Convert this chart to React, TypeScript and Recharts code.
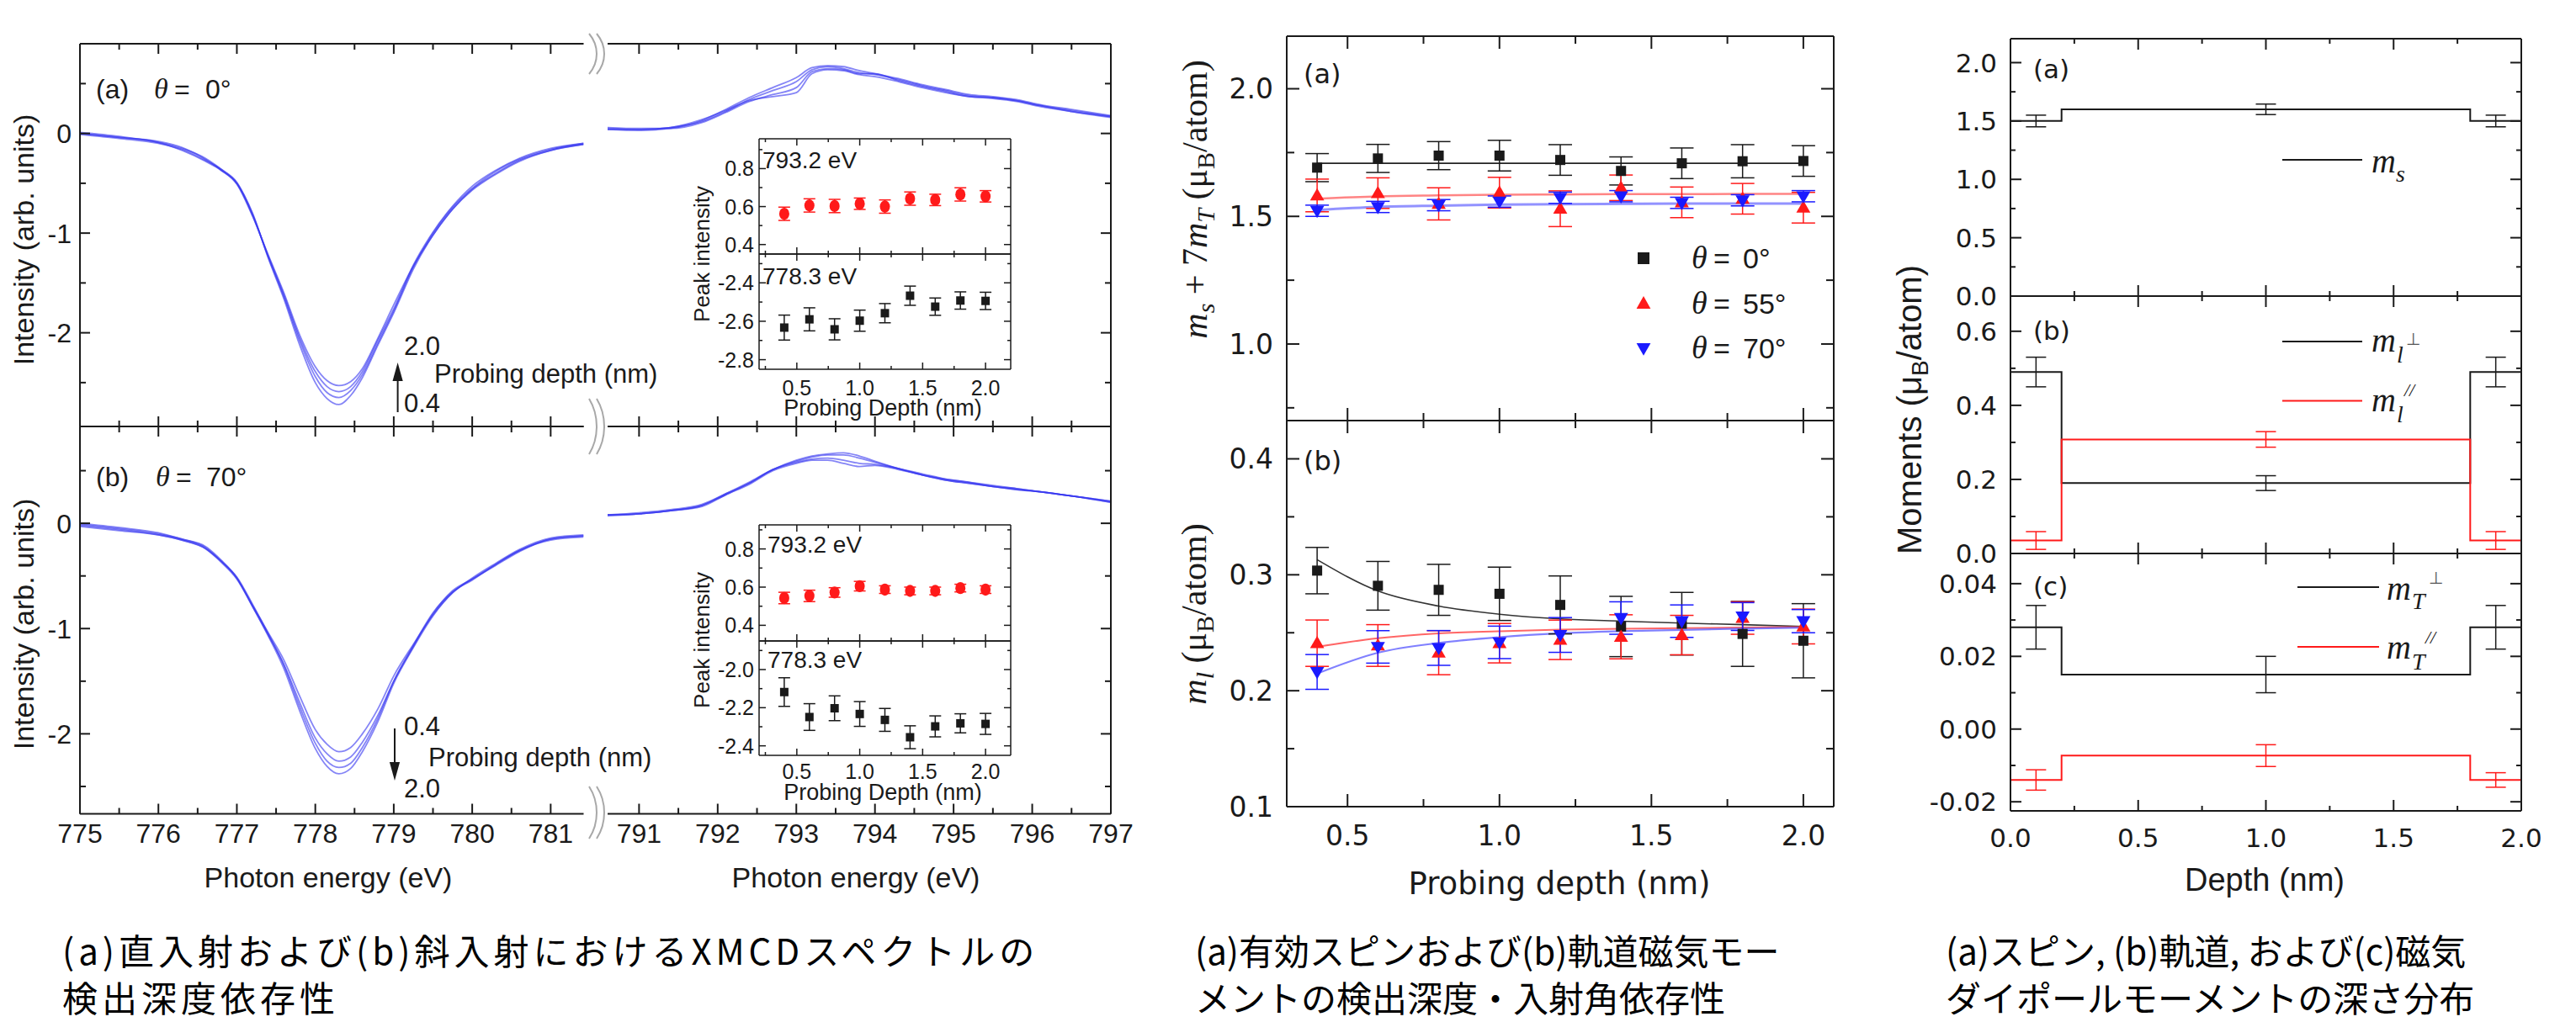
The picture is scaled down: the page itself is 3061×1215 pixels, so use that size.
import React from "react";
import { ComposedChart, Line, Scatter, XAxis, YAxis, ErrorBar } from "recharts";

const INK = "#1a1a1a";
const SPEC_BLUE = "#3434f0";
const RED = "#ff1a1a";
const BLUE = "#1a1aff";

const SANS = "'Liberation Sans', Arial, sans-serif";
const DEJAVU = "'DejaVu Sans', Verdana, sans-serif";
const SERIF = "'Liberation Serif', 'Times New Roman', serif";
const JP = "'Noto Sans CJK JP', 'Noto Sans CJK SC', sans-serif";

// ---- XMCD spectra (photon energy in eV) ----
const E_L3 = [775.0, 775.5, 776.0, 776.3, 776.6, 776.8, 777.0, 777.2, 777.4, 777.6, 777.8, 778.0, 778.15, 778.3, 778.45, 778.6, 778.8, 779.0, 779.25, 779.5, 779.75, 780.0, 780.3, 780.6, 781.0, 781.42];
const E_L2 = [790.6, 791.0, 791.4, 791.8, 792.1, 792.4, 792.7, 793.0, 793.2, 793.4, 793.6, 793.8, 794.0, 794.3, 794.6, 794.9, 795.2, 795.5, 795.8, 796.1, 796.5, 797.0];

// theta = 0 deg, a few probing depths
const SPEC0_L3 = [
  [0.0, -0.04, -0.08, -0.14, -0.26, -0.37, -0.51, -0.83, -1.22, -1.6, -2.02, -2.34, -2.48, -2.53, -2.49, -2.36, -2.05, -1.72, -1.33, -1.02, -0.76, -0.56, -0.4, -0.27, -0.17, -0.11],
  [0.01, -0.03, -0.09, -0.15, -0.25, -0.36, -0.5, -0.82, -1.23, -1.62, -2.05, -2.39, -2.54, -2.59, -2.54, -2.39, -2.07, -1.76, -1.32, -0.99, -0.73, -0.53, -0.37, -0.25, -0.15, -0.1],
  [-0.01, -0.05, -0.1, -0.16, -0.27, -0.36, -0.49, -0.81, -1.24, -1.64, -2.08, -2.44, -2.6, -2.65, -2.58, -2.42, -2.1, -1.78, -1.34, -1.0, -0.74, -0.55, -0.38, -0.26, -0.16, -0.1],
  [0.0, -0.04, -0.09, -0.17, -0.28, -0.37, -0.5, -0.8, -1.25, -1.66, -2.12, -2.5, -2.66, -2.72, -2.63, -2.45, -2.12, -1.8, -1.36, -1.02, -0.76, -0.57, -0.41, -0.28, -0.17, -0.11],
];
const SPEC0_L2 = [
  [0.04, 0.03, 0.05, 0.13, 0.24, 0.36, 0.46, 0.56, 0.66, 0.68, 0.67, 0.63, 0.6, 0.55, 0.49, 0.44, 0.39, 0.37, 0.34, 0.29, 0.24, 0.18],
  [0.05, 0.04, 0.06, 0.12, 0.22, 0.34, 0.43, 0.52, 0.64, 0.67, 0.65, 0.61, 0.59, 0.54, 0.48, 0.43, 0.38, 0.36, 0.33, 0.28, 0.23, 0.17],
  [0.06, 0.05, 0.05, 0.11, 0.21, 0.32, 0.39, 0.46, 0.62, 0.65, 0.64, 0.6, 0.6, 0.53, 0.47, 0.42, 0.37, 0.36, 0.33, 0.28, 0.22, 0.16],
  [0.04, 0.04, 0.06, 0.14, 0.23, 0.33, 0.37, 0.41, 0.6, 0.64, 0.63, 0.59, 0.57, 0.52, 0.46, 0.41, 0.37, 0.35, 0.32, 0.27, 0.22, 0.17],
];
// theta = 70 deg
const SPEC70_L3 = [
  [-0.01, -0.05, -0.1, -0.15, -0.23, -0.36, -0.52, -0.78, -1.04, -1.3, -1.64, -1.96, -2.1, -2.17, -2.13, -2.0, -1.76, -1.45, -1.15, -0.87, -0.66, -0.52, -0.38, -0.25, -0.14, -0.11],
  [0.0, -0.04, -0.09, -0.15, -0.22, -0.35, -0.52, -0.79, -1.06, -1.34, -1.7, -2.04, -2.19, -2.26, -2.22, -2.08, -1.82, -1.5, -1.17, -0.86, -0.64, -0.53, -0.4, -0.27, -0.15, -0.12],
  [-0.02, -0.06, -0.11, -0.16, -0.24, -0.36, -0.51, -0.77, -1.05, -1.35, -1.74, -2.09, -2.26, -2.32, -2.28, -2.13, -1.85, -1.5, -1.16, -0.85, -0.65, -0.54, -0.39, -0.26, -0.16, -0.13],
  [-0.03, -0.07, -0.11, -0.16, -0.24, -0.37, -0.53, -0.79, -1.07, -1.38, -1.78, -2.14, -2.31, -2.38, -2.33, -2.17, -1.88, -1.52, -1.18, -0.88, -0.66, -0.53, -0.39, -0.26, -0.15, -0.12],
];
const SPEC70_L2 = [
  [0.08, 0.09, 0.12, 0.17, 0.28, 0.38, 0.51, 0.6, 0.64, 0.66, 0.67, 0.64, 0.59, 0.52, 0.46, 0.41, 0.38, 0.35, 0.32, 0.3, 0.26, 0.2],
  [0.07, 0.09, 0.12, 0.17, 0.27, 0.38, 0.51, 0.59, 0.63, 0.65, 0.65, 0.62, 0.58, 0.52, 0.46, 0.41, 0.38, 0.35, 0.32, 0.3, 0.26, 0.2],
  [0.08, 0.1, 0.13, 0.18, 0.28, 0.39, 0.51, 0.58, 0.61, 0.62, 0.6, 0.57, 0.56, 0.52, 0.47, 0.42, 0.39, 0.35, 0.33, 0.3, 0.26, 0.21],
  [0.08, 0.09, 0.12, 0.16, 0.27, 0.37, 0.5, 0.57, 0.6, 0.6, 0.57, 0.54, 0.55, 0.51, 0.46, 0.42, 0.39, 0.36, 0.33, 0.3, 0.26, 0.21],
];

// ---- probing depth series (nm) ----
const DEPTHS = [0.4, 0.6, 0.8, 1.0, 1.2, 1.4, 1.6, 1.8, 2.0];

// inset peak intensities
const PK0_L2 = [0.562, 0.606, 0.603, 0.615, 0.6, 0.642, 0.635, 0.664, 0.654];
const PK0_L2_ERR = [0.035, 0.035, 0.035, 0.03, 0.035, 0.035, 0.03, 0.035, 0.03];
const PK0_L3 = [-2.633, -2.59, -2.642, -2.597, -2.558, -2.467, -2.524, -2.492, -2.494];
const PK0_L3_ERR = [0.065, 0.06, 0.055, 0.055, 0.05, 0.05, 0.045, 0.045, 0.045];
const PK70_L2 = [0.543, 0.554, 0.572, 0.605, 0.587, 0.58, 0.58, 0.595, 0.587];
const PK70_L2_ERR = [0.03, 0.03, 0.025, 0.025, 0.02, 0.02, 0.02, 0.02, 0.02];
const PK70_L3 = [-2.118, -2.249, -2.203, -2.233, -2.264, -2.355, -2.298, -2.282, -2.285];
const PK70_L3_ERR = [0.075, 0.07, 0.065, 0.065, 0.06, 0.06, 0.055, 0.05, 0.055];

// effective spin moment ms + 7mT
const EFF0 = [1.691, 1.727, 1.738, 1.738, 1.721, 1.678, 1.708, 1.716, 1.717];
const EFF0_ERR = [0.055, 0.055, 0.055, 0.06, 0.06, 0.055, 0.06, 0.065, 0.06];
const EFF55 = [1.582, 1.591, 1.549, 1.593, 1.53, 1.612, 1.555, 1.569, 1.534];
const EFF55_ERR = [0.064, 0.06, 0.063, 0.06, 0.07, 0.05, 0.06, 0.06, 0.06];
const EFF70 = [1.522, 1.537, 1.544, 1.558, 1.573, 1.579, 1.553, 1.563, 1.579];
const EFF70_ERR = [0.022, 0.022, 0.022, 0.022, 0.022, 0.022, 0.022, 0.022, 0.022];
const EFF0_FIT = [1.708, 1.708, 1.708, 1.708, 1.708, 1.708, 1.708, 1.708, 1.708];
const EFF55_FIT = [1.569, 1.578, 1.582, 1.585, 1.586, 1.587, 1.587, 1.588, 1.588];
const EFF70_FIT = [1.525, 1.537, 1.542, 1.546, 1.548, 1.549, 1.55, 1.55, 1.55];

// orbital moment ml
const ML0 = [0.3036, 0.2905, 0.287, 0.2836, 0.274, 0.2554, 0.2578, 0.249, 0.2431];
const ML0_ERR = [0.02, 0.021, 0.022, 0.023, 0.025, 0.026, 0.027, 0.028, 0.032];
const ML55 = [0.241, 0.239, 0.2328, 0.241, 0.2439, 0.2465, 0.248, 0.2627, 0.2554];
const ML55_ERR = [0.02, 0.018, 0.019, 0.017, 0.017, 0.019, 0.017, 0.014, 0.015];
const ML70 = [0.2162, 0.2378, 0.2369, 0.2417, 0.2481, 0.2627, 0.26, 0.264, 0.26];
const ML70_ERR = [0.015, 0.014, 0.015, 0.014, 0.015, 0.014, 0.014, 0.012, 0.01];
const ML0_FIT = [0.313, 0.286, 0.273, 0.266, 0.262, 0.26, 0.2583, 0.257, 0.2554];
const ML55_FIT = [0.2378, 0.2453, 0.2495, 0.2513, 0.2527, 0.2535, 0.254, 0.2545, 0.255];
const ML70_FIT = [0.2148, 0.2328, 0.2412, 0.2462, 0.2495, 0.2513, 0.2525, 0.2535, 0.2545];

// ---- depth profiles (step model) ----
const STEP_X = [0, 0.2, 1.8, 2.0];
const MS_STEP = [1.5, 1.6, 1.5, 1.5];
const MLPERP_STEP = [0.49, 0.19, 0.49, 0.49];
const MLPAR_STEP = [0.035, 0.308, 0.035, 0.035];
const MTPERP_STEP = [0.028, 0.015, 0.028, 0.028];
const MTPAR_STEP = [-0.014, -0.0073, -0.014, -0.014];
const ERR_X = [0.1, 1.0, 1.9];
const MS_PT = [1.5, 1.6, 1.5];
const MS_E = [0.05, 0.045, 0.05];
const MLPERP_PT = [0.49, 0.19, 0.49];
const MLPERP_E = [0.04, 0.02, 0.04];
const MLPAR_PT = [0.035, 0.308, 0.035];
const MLPAR_E = [0.024, 0.021, 0.024];
const MTPERP_PT = [0.028, 0.015, 0.028];
const MTPERP_E = [0.006, 0.005, 0.006];
const MTPAR_PT = [-0.014, -0.0073, -0.014];
const MTPAR_E = [0.0028, 0.003, 0.002];

// ---- ticks ----
const X_L3_TICKS = [775, 775.5, 776, 776.5, 777, 777.5, 778, 778.5, 779, 779.5, 780, 780.5, 781];
const X_L3_MAJ = [775, 776, 777, 778, 779, 780, 781];
const X_L2_TICKS = [791, 791.5, 792, 792.5, 793, 793.5, 794, 794.5, 795, 795.5, 796, 796.5, 797];
const X_L2_MAJ = [791, 792, 793, 794, 795, 796, 797];
const Y_SPEC_TICKS = [-2.5, -2, -1.5, -1, -0.5, 0, 0.5];
const Y_SPEC_MAJ = [-2, -1, 0];
const X_IN_TICKS = [0.25, 0.5, 0.75, 1, 1.25, 1.5, 1.75, 2];
const X_IN_MAJ = [0.5, 1, 1.5, 2];
const Y_IN_L2_TICKS = [0.4, 0.5, 0.6, 0.7, 0.8, 0.9];
const Y_IN_L2_MAJ = [0.4, 0.6, 0.8];
const Y_IN0_L3_TICKS = [-2.8, -2.7, -2.6, -2.5, -2.4, -2.3];
const Y_IN0_L3_MAJ = [-2.8, -2.6, -2.4];
const Y_IN70_L3_TICKS = [-2.4, -2.3, -2.2, -2.1, -2.0, -1.9];
const Y_IN70_L3_MAJ = [-2.4, -2.2, -2.0];
const X_MID_TICKS = [0.5, 0.75, 1, 1.25, 1.5, 1.75, 2];
const X_MID_MAJ = [0.5, 1, 1.5, 2];
const Y_EFF_TICKS = [0.75, 1, 1.25, 1.5, 1.75, 2];
const Y_EFF_MAJ = [1, 1.5, 2];
const Y_ML_TICKS = [0.1, 0.15, 0.2, 0.25, 0.3, 0.35, 0.4];
const Y_ML_MAJ = [0.1, 0.2, 0.3, 0.4];
const X_R_TICKS = [0, 0.25, 0.5, 0.75, 1, 1.25, 1.5, 1.75, 2];
const X_R_MAJ = [0, 0.5, 1, 1.5, 2];
const Y_RA_TICKS = [0, 0.25, 0.5, 0.75, 1, 1.25, 1.5, 1.75, 2];
const Y_RA_MAJ = [0, 0.5, 1, 1.5, 2];
const Y_RB_TICKS = [0, 0.1, 0.2, 0.3, 0.4, 0.5, 0.6];
const Y_RB_MAJ = [0, 0.2, 0.4, 0.6];
const Y_RC_TICKS = [-0.02, -0.01, 0, 0.01, 0.02, 0.03, 0.04];
const Y_RC_MAJ = [-0.02, 0, 0.02, 0.04];

type Ax = { domain: [number, number]; ticks: number[]; majors: number[]; fmt: (v: number) => string };
type Look = { font: string; size: number; major: number; minor: number; xdy: number; ygap: number; stroke: number };

const f0 = (v: number) => String(v);
const f1 = (v: number) => v.toFixed(1);
const f2 = (v: number) => v.toFixed(2);

const LOOK_SPEC: Look = { font: SANS, size: 32, major: 12, minor: 7, xdy: 34, ygap: 10, stroke: 2 };
const LOOK_IN_A: Look = { font: SANS, size: 25, major: 8, minor: 4, xdy: 31, ygap: 6, stroke: 1.5 };
const LOOK_IN_B: Look = { ...LOOK_IN_A, xdy: 28 };
const LOOK_MID: Look = { font: DEJAVU, size: 33, major: 15, minor: 9, xdy: 46, ygap: 16, stroke: 2 };
const LOOK_R: Look = { font: DEJAVU, size: 31, major: 13, minor: 6, xdy: 43, ygap: 16, stroke: 2 };

const pts = (xs: number[], ys: number[]) => xs.map((x, i) => ({ x, y: ys[i] }));
const ptsE = (xs: number[], ys: number[], es: number[]) => xs.map((x, i) => ({ x, y: ys[i], e: es[i] }));

function tickFn(side: "bottom" | "top" | "left" | "right", ax: Ax, look: Look, labels: boolean) {
  return (p: any) => {
    const x = Number(p.x);
    const y = Number(p.y);
    const v = Number(p.payload?.value);
    const major = ax.majors.some((m) => Math.abs(m - v) < 1e-9);
    const L = major ? look.major : look.minor;
    const x2 = side === "left" ? x + L : side === "right" ? x - L : x;
    const y2 = side === "bottom" ? y - L : side === "top" ? y + L : y;
    const txt = labels && major ? ax.fmt(v) : null;
    return (
      <g>
        <line x1={x} y1={y} x2={x2} y2={y2} stroke={INK} strokeWidth={look.stroke} />
        {txt !== null && side === "bottom" && (
          <text x={x} y={y + look.xdy} textAnchor="middle" fontFamily={look.font} fontSize={look.size} fill={INK}>
            {txt}
          </text>
        )}
        {txt !== null && side === "left" && (
          <text x={x - look.ygap} y={y} dy="0.36em" textAnchor="end" fontFamily={look.font} fontSize={look.size} fill={INK}>
            {txt}
          </text>
        )}
      </g>
    );
  };
}

type PlotProps = {
  box: [number, number, number, number];
  xa: Ax;
  ya: Ax;
  look: Look;
  noLeft?: boolean;
  noRight?: boolean;
  xLab?: boolean;
  yLab?: boolean;
  children?: React.ReactNode;
};

// each axis gets a 1px band (axes of zero size are not drawn), the margin takes up the rest
function Plot({ box, xa, ya, look, noLeft, noRight, xLab, yLab, children }: PlotProps) {
  const P = { top: 20, right: 30, bottom: 80, left: 120 };
  const w = box[2] - box[0] + P.left + P.right;
  const h = box[3] - box[1] + P.top + P.bottom;
  const margin = { top: P.top - 1, right: P.right - 1, bottom: P.bottom - 1, left: P.left - 1 };
  const ax = { stroke: INK, strokeWidth: look.stroke };
  const common = { tickSize: 0, tickMargin: 0, interval: 0 as const, allowDataOverflow: true, tickLine: false };
  return (
    <div style={{ position: "absolute", left: box[0] - P.left, top: box[1] - P.top, width: w, height: h }}>
      <ComposedChart width={w} height={h} margin={margin}>
        <XAxis xAxisId="b" orientation="bottom" type="number" dataKey="x" height={1} domain={xa.domain} ticks={xa.ticks} axisLine={ax} tick={tickFn("bottom", xa, look, !!xLab)} {...common} />
        <XAxis xAxisId="t" orientation="top" type="number" dataKey="x" height={1} domain={xa.domain} ticks={xa.ticks} axisLine={ax} tick={tickFn("top", xa, look, false)} {...common} />
        <YAxis yAxisId="l" orientation="left" type="number" width={1} domain={ya.domain} ticks={ya.ticks} axisLine={noLeft ? false : ax} tick={noLeft ? false : tickFn("left", ya, look, !!yLab)} {...common} />
        <YAxis yAxisId="r" orientation="right" type="number" width={1} domain={ya.domain} ticks={ya.ticks} axisLine={noRight ? false : ax} tick={noRight ? false : tickFn("right", ya, look, false)} {...common} />
        {children}
      </ComposedChart>
    </div>
  );
}

const square = (s: number, fill: string) => (p: any) => <rect x={p.cx - s / 2} y={p.cy - s / 2} width={s} height={s} fill={fill} />;
const triUp = (s: number, fill: string) => (p: any) => (
  <polygon points={`${p.cx},${p.cy - s * 0.62} ${p.cx - s * 0.6},${p.cy + s * 0.42} ${p.cx + s * 0.6},${p.cy + s * 0.42}`} fill={fill} />
);
const triDown = (s: number, fill: string) => (p: any) => (
  <polygon points={`${p.cx},${p.cy + s * 0.62} ${p.cx - s * 0.6},${p.cy - s * 0.42} ${p.cx + s * 0.6},${p.cy - s * 0.42}`} fill={fill} />
);
const blob = (r: number, fill: string) => (p: any) => <ellipse cx={p.cx} cy={p.cy} rx={r} ry={r * 1.2} fill={fill} />;
const noMark = () => <g />;

function points(key: string, data: any[], shape: any, color: string, cap: number, sw = 1.5) {
  return (
    <Scatter key={key} xAxisId="b" yAxisId="l" data={data} dataKey="y" shape={shape} isAnimationActive={false}>
      <ErrorBar dataKey="e" direction="y" width={cap} stroke={color} strokeWidth={sw} />
    </Scatter>
  );
}

function curve(key: string, data: any[], color: string, width: number, type: any = "monotone", opacity = 1) {
  return (
    <Line key={key} xAxisId="b" yAxisId="l" data={data} dataKey="y" type={type} stroke={color} strokeWidth={width} strokeOpacity={opacity} dot={false} activeDot={false} isAnimationActive={false} />
  );
}

const X_L3: Ax = { domain: [775, 781.42], ticks: X_L3_TICKS, majors: X_L3_MAJ, fmt: f0 };
const X_L2: Ax = { domain: [790.6, 797], ticks: X_L2_TICKS, majors: X_L2_MAJ, fmt: f0 };
const Y_SPEC0: Ax = { domain: [-2.94, 0.9], ticks: Y_SPEC_TICKS, majors: Y_SPEC_MAJ, fmt: f0 };
const Y_SPEC70: Ax = { domain: [-2.76, 0.92], ticks: Y_SPEC_TICKS, majors: Y_SPEC_MAJ, fmt: f0 };
const X_IN: Ax = { domain: [0.2, 2.2], ticks: X_IN_TICKS, majors: X_IN_MAJ, fmt: f1 };
const Y_IN0_L2: Ax = { domain: [0.35, 0.957], ticks: Y_IN_L2_TICKS, majors: Y_IN_L2_MAJ, fmt: f1 };
const Y_IN0_L3: Ax = { domain: [-2.85, -2.25], ticks: Y_IN0_L3_TICKS, majors: Y_IN0_L3_MAJ, fmt: f1 };
const Y_IN70_L2: Ax = { domain: [0.318, 0.926], ticks: Y_IN_L2_TICKS, majors: Y_IN_L2_MAJ, fmt: f1 };
const Y_IN70_L3: Ax = { domain: [-2.45, -1.85], ticks: Y_IN70_L3_TICKS, majors: Y_IN70_L3_MAJ, fmt: f1 };
const X_MID: Ax = { domain: [0.3, 2.1], ticks: X_MID_TICKS, majors: X_MID_MAJ, fmt: f1 };
const Y_EFF: Ax = { domain: [0.7, 2.206], ticks: Y_EFF_TICKS, majors: Y_EFF_MAJ, fmt: f1 };
const Y_ML: Ax = { domain: [0.1, 0.433], ticks: Y_ML_TICKS, majors: Y_ML_MAJ, fmt: f1 };
const X_R: Ax = { domain: [0, 2], ticks: X_R_TICKS, majors: X_R_MAJ, fmt: f1 };
const Y_RA: Ax = { domain: [0, 2.205], ticks: Y_RA_TICKS, majors: Y_RA_MAJ, fmt: f1 };
const Y_RB: Ax = { domain: [0, 0.695], ticks: Y_RB_TICKS, majors: Y_RB_MAJ, fmt: f1 };
const Y_RC: Ax = { domain: [-0.0225, 0.0483], ticks: Y_RC_TICKS, majors: Y_RC_MAJ, fmt: f2 };

function breakMark(cy: number, h: number) {
  const a = cy - h / 2;
  const b = cy + h / 2;
  return [0, 9].map((dx) => (
    <path key={`${cy}-${dx}`} d={`M ${700 + dx} ${a} C ${712 + dx} ${a + h * 0.3}, ${712 + dx} ${b - h * 0.3}, ${700 + dx} ${b}`} stroke="#a8a8a8" strokeWidth={2} fill="none" />
  ));
}

function Overlay() {
  const t = { fontFamily: SANS, fill: INK };
  const it = { fontFamily: SERIF, fontStyle: "italic" as const, fill: INK };
  return (
    <svg width={3061} height={1215} style={{ position: "absolute", left: 0, top: 0, pointerEvents: "none" }}>
      {/* spectra panel */}
      {breakMark(64, 48)}
      {breakMark(507, 66)}
      {breakMark(966, 62)}
      <text {...t} fontSize={34} textAnchor="middle" transform="translate(40,285) rotate(-90)">Intensity (arb. units)</text>
      <text {...t} fontSize={34} textAnchor="middle" transform="translate(40,742) rotate(-90)">Intensity (arb. units)</text>
      <text {...t} fontSize={32} x={114} y={117}>(a)</text>
      <text {...it} fontSize={34} x={183} y={117}>θ</text>
      <text {...t} fontSize={32} x={207} y={117}>=</text>
      <text {...t} fontSize={32} x={244} y={117}>0°</text>
      <text {...t} fontSize={32} x={114} y={578}>(b)</text>
      <text {...it} fontSize={34} x={185} y={578}>θ</text>
      <text {...t} fontSize={32} x={209} y={578}>=</text>
      <text {...t} fontSize={32} x={245} y={578}>70°</text>
      <line x1={472.6} y1={490} x2={472.6} y2={450} stroke={INK} strokeWidth={2} />
      <polygon points="472.6,431 466.5,453 478.7,453" fill={INK} />
      <text {...t} fontSize={31} x={480} y={422}>2.0</text>
      <text {...t} fontSize={31} x={516} y={455}>Probing depth (nm)</text>
      <text {...t} fontSize={31} x={480} y={490}>0.4</text>
      <line x1={469} y1={866} x2={469} y2={907} stroke={INK} strokeWidth={2} />
      <polygon points="469,928 462.9,906 475.1,906" fill={INK} />
      <text {...t} fontSize={31} x={480} y={874}>0.4</text>
      <text {...t} fontSize={31} x={509} y={911}>Probing depth (nm)</text>
      <text {...t} fontSize={31} x={480} y={948}>2.0</text>
      <text {...t} fontSize={34} x={390} y={1055} textAnchor="middle">Photon energy (eV)</text>
      <text {...t} fontSize={34} x={1017} y={1055} textAnchor="middle">Photon energy (eV)</text>
      {/* insets */}
      <text {...t} fontSize={28} x={906} y={200}>793.2 eV</text>
      <text {...t} fontSize={28} x={906} y={338}>778.3 eV</text>
      <text {...t} fontSize={26} textAnchor="middle" transform="translate(843,302) rotate(-90)">Peak intensity</text>
      <text {...t} fontSize={27} x={1049} y={494} textAnchor="middle">Probing Depth (nm)</text>
      <text {...t} fontSize={28} x={912} y={657}>793.2 eV</text>
      <text {...t} fontSize={28} x={912} y={794}>778.3 eV</text>
      <text {...t} fontSize={26} textAnchor="middle" transform="translate(843,761) rotate(-90)">Peak intensity</text>
      <text {...t} fontSize={27} x={1049} y={951} textAnchor="middle">Probing Depth (nm)</text>

      {/* moments vs probing depth */}
      <text fontFamily={DEJAVU} fill={INK} fontSize={32} x={1549} y={99}>(a)</text>
      <text fontFamily={DEJAVU} fill={INK} fontSize={32} x={1549} y={559}>(b)</text>
      <text fontFamily={SERIF} fill={INK} fontSize={42} textAnchor="middle" transform="translate(1434,237) rotate(-90)">
        <tspan fontStyle="italic">m</tspan>
        <tspan fontStyle="italic" fontSize={30} dy={9}>s</tspan>
        <tspan dy={-9}> + 7</tspan>
        <tspan fontStyle="italic">m</tspan>
        <tspan fontStyle="italic" fontSize={30} dy={9}>T</tspan>
        <tspan dy={-9}> (μ</tspan>
        <tspan fontSize={30} dy={9}>B</tspan>
        <tspan dy={-9}>/atom)</tspan>
      </text>
      <text fontFamily={SERIF} fill={INK} fontSize={42} textAnchor="middle" transform="translate(1433,730) rotate(-90)">
        <tspan fontStyle="italic">m</tspan>
        <tspan fontStyle="italic" fontSize={30} dy={9}>l</tspan>
        <tspan dy={-9}> (μ</tspan>
        <tspan fontSize={30} dy={9}>B</tspan>
        <tspan dy={-9}>/atom)</tspan>
      </text>
      <rect x={1946} y={300} width={14} height={14} fill={INK} />
      <polygon points="1953,352 1944.6,366.9 1961.4,366.9" fill={RED} />
      <polygon points="1953,422.7 1944.6,407.9 1961.4,407.9" fill={BLUE} />
      <text {...it} fontSize={38} x={2010} y={319}>θ</text>
      <text {...t} fontSize={34} x={2036} y={319}>=</text>
      <text {...t} fontSize={34} x={2071} y={319}>0°</text>
      <text {...it} fontSize={38} x={2010} y={373}>θ</text>
      <text {...t} fontSize={34} x={2036} y={373}>=</text>
      <text {...t} fontSize={34} x={2071} y={373}>55°</text>
      <text {...it} fontSize={38} x={2010} y={426}>θ</text>
      <text {...t} fontSize={34} x={2036} y={426}>=</text>
      <text {...t} fontSize={34} x={2071} y={426}>70°</text>
      <text fontFamily={DEJAVU} fill={INK} fontSize={37} x={1853} y={1063} textAnchor="middle">Probing depth (nm)</text>

      {/* depth profiles */}
      <text fontFamily={DEJAVU} fill={INK} fontSize={31} x={2416} y={93}>(a)</text>
      <text fontFamily={DEJAVU} fill={INK} fontSize={31} x={2416} y={404}>(b)</text>
      <text fontFamily={DEJAVU} fill={INK} fontSize={31} x={2416} y={708}>(c)</text>
      <text {...t} fontSize={40} textAnchor="middle" transform="translate(2283,487) rotate(-90)">
        <tspan>Moments (μ</tspan>
        <tspan fontSize={28} dy={8}>B</tspan>
        <tspan dy={-8}>/atom)</tspan>
      </text>
      <line x1={2712} y1={190} x2={2807} y2={190} stroke={INK} strokeWidth={2} />
      <text {...it} fontSize={40} x={2818} y={205}>m</text>
      <text {...it} fontSize={28} x={2847} y={216}>s</text>
      <line x1={2712} y1={406} x2={2807} y2={406} stroke={INK} strokeWidth={2} />
      <text {...it} fontSize={40} x={2818} y={418}>m</text>
      <text {...it} fontSize={28} x={2848} y={431}>l</text>
      <text fontFamily={SANS} fill="#555" fontSize={20} x={2859} y={410}>⊥</text>
      <line x1={2712} y1={476.6} x2={2807} y2={476.6} stroke={RED} strokeWidth={2} />
      <text {...it} fontSize={40} x={2818} y={489}>m</text>
      <text {...it} fontSize={28} x={2848} y={502}>l</text>
      <text {...it} fontSize={22} x={2857} y={471}>//</text>
      <line x1={2730} y1={698} x2={2827} y2={698} stroke={INK} strokeWidth={2} />
      <text {...it} fontSize={40} x={2836} y={713}>m</text>
      <text {...it} fontSize={28} x={2866} y={724}>T</text>
      <text fontFamily={SANS} fill="#555" fontSize={20} x={2886} y={694}>⊥</text>
      <line x1={2730} y1={769} x2={2827} y2={769} stroke={RED} strokeWidth={2} />
      <text {...it} fontSize={40} x={2836} y={783}>m</text>
      <text {...it} fontSize={28} x={2866} y={796}>T</text>
      <text {...it} fontSize={22} x={2882} y={765}>//</text>
      <text {...t} fontSize={38} x={2691} y={1059} textAnchor="middle">Depth (nm)</text>

      {/* captions */}
      <text fontFamily={JP} fill="#000" fontSize={42} letterSpacing={5} x={74} y={1147}>(a)直入射および(b)斜入射におけるXMCDスペクトルの</text>
      <text fontFamily={JP} fill="#000" fontSize={42} letterSpacing={5} x={74} y={1203}>検出深度依存性</text>
      <text fontFamily={JP} fill="#000" fontSize={42} x={1420} y={1147}>(a)有効スピンおよび(b)軌道磁気モー</text>
      <text fontFamily={JP} fill="#000" fontSize={42} x={1420} y={1203}>メントの検出深度・入射角依存性</text>
      <text fontFamily={JP} fill="#000" fontSize={42} x={2312} y={1147}>(a)スピン, (b)軌道, および(c)磁気</text>
      <text fontFamily={JP} fill="#000" fontSize={42} x={2312} y={1203}>ダイポールモーメントの深さ分布</text>
    </svg>
  );
}

export default function App() {
  return (
    <div style={{ position: "relative", width: 3061, height: 1215, background: "#fff", overflow: "hidden" }}>
      <style>{"body{margin:0;background:#fff;}"}</style>

      {/* XMCD spectra */}
      <Plot box={[94.5, 52, 693, 507]} xa={X_L3} ya={Y_SPEC0} look={LOOK_SPEC} noRight yLab>
        {SPEC0_L3.map((c, i) => curve(`a3${i}`, pts(E_L3, c), SPEC_BLUE, 1.8, "monotone", 0.6))}
      </Plot>
      <Plot box={[722, 52, 1320, 507]} xa={X_L2} ya={Y_SPEC0} look={LOOK_SPEC} noLeft>
        {SPEC0_L2.map((c, i) => curve(`a2${i}`, pts(E_L2, c), SPEC_BLUE, 1.8, "monotone", 0.6))}
      </Plot>
      <Plot box={[94.5, 507, 693, 967.5]} xa={X_L3} ya={Y_SPEC70} look={LOOK_SPEC} noRight yLab xLab>
        {SPEC70_L3.map((c, i) => curve(`b3${i}`, pts(E_L3, c), SPEC_BLUE, 1.8, "monotone", 0.6))}
      </Plot>
      <Plot box={[722, 507, 1320, 967.5]} xa={X_L2} ya={Y_SPEC70} look={LOOK_SPEC} noLeft xLab>
        {SPEC70_L2.map((c, i) => curve(`b2${i}`, pts(E_L2, c), SPEC_BLUE, 1.8, "monotone", 0.6))}
      </Plot>

      {/* insets */}
      <div style={{ position: "absolute", left: 902, top: 165, width: 299, height: 274, background: "#fff" }} />
      <div style={{ position: "absolute", left: 902, top: 624, width: 299, height: 274, background: "#fff" }} />
      <Plot box={[902, 165, 1201, 302]} xa={X_IN} ya={Y_IN0_L2} look={LOOK_IN_A} yLab>
        {[points("i0l2", ptsE(DEPTHS, PK0_L2, PK0_L2_ERR), blob(6, RED), RED, 7)]}
      </Plot>
      <Plot box={[902, 302, 1201, 439]} xa={X_IN} ya={Y_IN0_L3} look={LOOK_IN_A} yLab xLab>
        {[points("i0l3", ptsE(DEPTHS, PK0_L3, PK0_L3_ERR), square(10, INK), INK, 7)]}
      </Plot>
      <Plot box={[902, 624, 1201, 762]} xa={X_IN} ya={Y_IN70_L2} look={LOOK_IN_B} yLab>
        {[points("i7l2", ptsE(DEPTHS, PK70_L2, PK70_L2_ERR), blob(6, RED), RED, 7)]}
      </Plot>
      <Plot box={[902, 762, 1201, 898]} xa={X_IN} ya={Y_IN70_L3} look={LOOK_IN_B} yLab xLab>
        {[points("i7l3", ptsE(DEPTHS, PK70_L3, PK70_L3_ERR), square(10, INK), INK, 7)]}
      </Plot>

      {/* moments vs probing depth */}
      <Plot box={[1529, 43, 2179, 500]} xa={X_MID} ya={Y_EFF} look={LOOK_MID} yLab>
        {[
          curve("ef0", pts(DEPTHS, EFF0_FIT), "#222", 1.6),
          curve("ef55", pts(DEPTHS, EFF55_FIT), "#ff5050", 2.5, "monotone", 0.7),
          curve("ef70", pts(DEPTHS, EFF70_FIT), "#4a4aff", 3, "monotone", 0.6),
          points("e0", ptsE(DEPTHS, EFF0, EFF0_ERR), square(12, INK), INK, 14),
          points("e55", ptsE(DEPTHS, EFF55, EFF55_ERR), triUp(14, RED), RED, 14),
          points("e70", ptsE(DEPTHS, EFF70, EFF70_ERR), triDown(14, BLUE), BLUE, 14),
        ]}
      </Plot>
      <Plot box={[1529, 500, 2179, 959]} xa={X_MID} ya={Y_ML} look={LOOK_MID} yLab xLab>
        {[
          curve("mf0", pts(DEPTHS, ML0_FIT), "#333", 1.6),
          curve("mf55", pts(DEPTHS, ML55_FIT), "#ff4040", 2, "monotone", 0.8),
          curve("mf70", pts(DEPTHS, ML70_FIT), "#4a4aff", 2.2, "monotone", 0.7),
          points("m0", ptsE(DEPTHS, ML0, ML0_ERR), square(12, INK), INK, 14),
          points("m55", ptsE(DEPTHS, ML55, ML55_ERR), triUp(14, RED), RED, 14),
          points("m70", ptsE(DEPTHS, ML70, ML70_ERR), triDown(14, BLUE), BLUE, 14),
        ]}
      </Plot>

      {/* depth profiles */}
      <Plot box={[2389, 46, 2996, 352]} xa={X_R} ya={Y_RA} look={LOOK_R} yLab>
        {[
          curve("ms", pts(STEP_X, MS_STEP), INK, 2, "stepAfter"),
          points("mse", ptsE(ERR_X, MS_PT, MS_E), noMark, INK, 12),
        ]}
      </Plot>
      <Plot box={[2389, 352, 2996, 658]} xa={X_R} ya={Y_RB} look={LOOK_R} yLab>
        {[
          curve("mlp", pts(STEP_X, MLPERP_STEP), INK, 2, "stepAfter"),
          curve("mlq", pts(STEP_X, MLPAR_STEP), RED, 2, "stepAfter"),
          points("mlpe", ptsE(ERR_X, MLPERP_PT, MLPERP_E), noMark, INK, 12),
          points("mlqe", ptsE(ERR_X, MLPAR_PT, MLPAR_E), noMark, RED, 12),
        ]}
      </Plot>
      <Plot box={[2389, 658, 2996, 964]} xa={X_R} ya={Y_RC} look={LOOK_R} yLab xLab>
        {[
          curve("mtp", pts(STEP_X, MTPERP_STEP), INK, 2, "stepAfter"),
          curve("mtq", pts(STEP_X, MTPAR_STEP), RED, 2, "stepAfter"),
          points("mtpe", ptsE(ERR_X, MTPERP_PT, MTPERP_E), noMark, INK, 12),
          points("mtqe", ptsE(ERR_X, MTPAR_PT, MTPAR_E), noMark, RED, 12),
        ]}
      </Plot>

      <Overlay />
    </div>
  );
}
